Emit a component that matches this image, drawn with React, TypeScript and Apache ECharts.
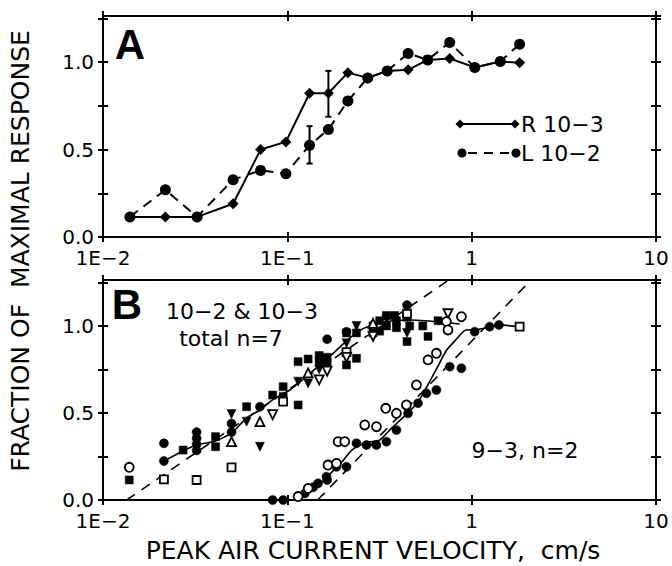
import React, { useEffect, useRef } from 'react';
import * as echarts from 'echarts';

// ---------- tick labels ----------
const xTickValues = [0.01, 0.1, 1, 10];
const xTickLabels = ['1E\u22122', '1E\u22121', '1', '10'];
const yTickValues = [0, 0.5, 1];
const yTickLabels = ['0.0', '0.5', '1.0'];

// ---------- panel A ----------
const aVelocity = [0.014, 0.0218, 0.0324, 0.0508, 0.0716, 0.0982, 0.132, 0.167, 0.213, 0.273, 0.348, 0.452, 0.577, 0.76, 1.04, 1.43, 1.82];
const aR103 = [0.115, 0.115, 0.115, 0.19, 0.5, 0.544, 0.822, 0.822, 0.94, 0.91, 0.95, 0.956, 1.013, 1.021, 0.97, 1.004, 0.996];
const aL102 = [0.115, 0.27, 0.115, 0.328, 0.381, 0.362, 0.525, 0.615, 0.778, 0.91, 0.95, 1.05, 1.013, 1.113, 0.97, 1.004, 1.103];
// [velocity, low, high]
const aErrR = [[0.167, 0.688, 0.95]];
const aErrL = [[0.132, 0.42, 0.634]];

// ---------- panel B : 10-2 & 10-3 ----------
const bFilledCircle = [[0.0214, 0.326], [0.0214, 0.224], [0.0322, 0.39], [0.0322, 0.355], [0.0322, 0.32], [0.0322, 0.285], [0.0498, 0.44], [0.0498, 0.39], [0.071, 0.536], [0.1644, 0.924], [0.2094, 0.967], [0.4459, 1.12]];
const bOpenCircle = [[0.01388, 0.188]];
const bFilledSquare = [[0.01388, 0.115], [0.0272, 0.287], [0.0408, 0.364], [0.0408, 0.306], [0.0601, 0.536], [0.0832, 0.603], [0.0949, 0.651], [0.0949, 0.594], [0.1144, 0.546], [0.1144, 0.795], [0.1297, 0.81], [0.1488, 0.8], [0.1488, 0.83], [0.1644, 0.82], [0.1644, 0.79], [0.2094, 0.776], [0.2371, 0.814], [0.2371, 0.96], [0.2094, 0.96], [0.2917, 1.0], [0.2917, 0.96], [0.317, 1.03], [0.317, 0.97], [0.3449, 1.06], [0.3449, 1.0], [0.382, 1.06], [0.3907, 1.03], [0.3907, 0.99], [0.4459, 1.05], [0.461, 1.0], [0.4459, 0.91], [0.543, 1.0], [0.5796, 0.94], [0.6568, 1.03]];
const bOpenSquare = [[0.0214, 0.119], [0.0322, 0.115], [0.0498, 0.188], [0.0949, 0.565], [0.2094, 0.85], [0.4459, 1.07]];
const bFilledDownTri = [[0.0498, 0.494], [0.0601, 0.45], [0.071, 0.306], [0.1144, 0.68], [0.1297, 0.67], [0.1488, 0.75], [0.2094, 0.9], [0.2371, 1.0], [0.3449, 1.04], [0.4459, 0.96]];
const bOpenDownTri = [[0.0832, 0.49], [0.1488, 0.69], [0.1644, 0.74], [0.2094, 0.82], [0.2917, 0.94], [0.7438, 1.07]];
const bOpenUpTri = [[0.0498, 0.335], [0.071, 0.45], [0.1297, 0.73], [0.2917, 1.015]];

// ---------- panel B : 9-3 ----------
const b93Filled = [[0.0832, 0.0], [0.0949, 0.0], [0.1244, 0.038], [0.138, 0.073], [0.1468, 0.096], [0.1644, 0.115], [0.1631, 0.134], [0.1848, 0.191], [0.2094, 0.191], [0.2371, 0.326], [0.2687, 0.316], [0.3044, 0.316], [0.3449, 0.335], [0.3907, 0.402], [0.4516, 0.498], [0.5116, 0.556], [0.5682, 0.613], [0.6438, 0.632], [0.7601, 0.766], [0.8796, 0.757], [1.038, 0.967], [1.252, 0.996], [1.406, 1.006]];
const b93Open = [[0.1144, 0.02], [0.1297, 0.067], [0.1662, 0.201], [0.1848, 0.21], [0.1885, 0.335], [0.2049, 0.335], [0.263, 0.431], [0.3044, 0.421], [0.3419, 0.527], [0.3907, 0.498], [0.4427, 0.546], [0.5017, 0.661], [0.5796, 0.805], [0.6438, 0.843], [0.7294, 1.025], [0.7438, 0.977], [0.8796, 1.053]];
const b93OpenSquare = [[1.82, 0.996]];

// ---------- panel B : curves ----------
const bCurveLeft = [[0.0214, 0.224], [0.0272, 0.282], [0.0322, 0.316], [0.0408, 0.339], [0.0498, 0.385], [0.0601, 0.471], [0.071, 0.517], [0.0832, 0.575], [0.1032, 0.632], [0.1244, 0.701], [0.1501, 0.776], [0.1809, 0.851], [0.2183, 0.931], [0.263, 0.989], [0.3377, 1.023], [0.4613, 1.034], [0.671, 1.023], [0.861, 1.011]];
const bCurveRight = [[0.1169, 0.006], [0.1463, 0.08], [0.17, 0.149], [0.1974, 0.218], [0.2237, 0.287], [0.263, 0.328], [0.3172, 0.345], [0.3685, 0.414], [0.4334, 0.483], [0.5098, 0.56], [0.5775, 0.66], [0.65, 0.76], [0.73, 0.86], [0.82, 0.92], [0.93, 0.977], [1.038, 0.977], [1.252, 0.994], [1.418, 1.006], [1.82, 0.994]];
const bDashLeft = [[0.01344, 0], [0.752, 1.264]];
const bDashRight = [[0.146, 0], [2.1, 1.264]];

const Y_MAX = 1.264;
const FONT = 'DejaVu Sans';

function xLabel(v: number) {
  for (let i = 0; i < xTickValues.length; i++) {
    if (Math.abs(Math.log10(v) - Math.log10(xTickValues[i])) < 1e-6) return xTickLabels[i];
  }
  return '';
}
function yLabel(v: number) {
  for (let i = 0; i < yTickValues.length; i++) {
    if (Math.abs(v - yTickValues[i]) < 1e-6) return yTickLabels[i];
  }
  return '';
}

function makeX(gridIndex: number, position: string, inside: boolean, showLabel: boolean) {
  return {
    type: 'log', logBase: 10, min: 0.01, max: 10, gridIndex, position,
    axisLine: { show: true, onZero: false, lineStyle: { color: '#000', width: 2 } },
    axisTick: { show: true, inside, length: 5, lineStyle: { color: '#000', width: 2 } },
    axisLabel: { show: showLabel, formatter: xLabel, fontSize: 20, fontFamily: FONT, color: '#000', margin: 11 },
    splitLine: { show: false }, minorTick: { show: false }, minorSplitLine: { show: false },
  };
}
function makeY(gridIndex: number, position: string, inside: boolean, showLabel: boolean) {
  return {
    type: 'value', min: 0, max: Y_MAX, interval: 0.25, gridIndex, position,
    axisLine: { show: true, onZero: false, lineStyle: { color: '#000', width: 2 } },
    axisTick: { show: true, inside, length: 5, lineStyle: { color: '#000', width: 2 } },
    axisLabel: { show: showLabel, formatter: yLabel, fontSize: 20, fontFamily: FONT, color: '#000', margin: 9, showMaxLabel: false },
    splitLine: { show: false },
  };
}

const errRender = (params: any, api: any) => {
  const x = api.value(0), lo = api.value(1), hi = api.value(2);
  const p1 = api.coord([x, lo]);
  const p2 = api.coord([x, hi]);
  const cw = 3;
  const st = { stroke: '#000', lineWidth: 2 };
  return {
    type: 'group',
    children: [
      { type: 'line', shape: { x1: p1[0], y1: p1[1], x2: p2[0], y2: p2[1] }, style: st },
      { type: 'line', shape: { x1: p1[0] - cw, y1: p1[1], x2: p1[0] + cw, y2: p1[1] }, style: st },
      { type: 'line', shape: { x1: p2[0] - cw, y1: p2[1], x2: p2[0] + cw, y2: p2[1] }, style: st },
    ],
  };
};

function scatter(name: string, data: number[][], symbol: string, size: number, open: boolean, rotate = 0) {
  return {
    name, type: 'scatter', xAxisIndex: 4, yAxisIndex: 4, data, symbol, symbolSize: size, symbolRotate: rotate, z: 4,
    itemStyle: open
      ? { color: '#fff', borderColor: '#000', borderWidth: 1.8, opacity: 1 }
      : { color: '#000', borderColor: '#000', borderWidth: 0.5, opacity: 1 },
  };
}

function diamondPts(cx: number, cy: number, r: number) {
  return [[cx, cy - r], [cx + r, cy], [cx, cy + r], [cx - r, cy]];
}

export default function App() {
  const ref = useRef<HTMLDivElement>(null);
  useEffect(() => {
    if (!ref.current) return;
    const chart = echarts.init(ref.current, undefined, { renderer: 'svg' });
    const option: any = {
      animation: false,
      backgroundColor: '#fff',
      textStyle: { fontFamily: FONT },
      grid: [
        { left: 103, top: 16, width: 553, height: 221 },
        { left: 103, top: 280, width: 553, height: 220 },
      ],
      xAxis: [
        makeX(0, 'bottom', false, true), makeX(0, 'bottom', true, false), makeX(0, 'top', false, false), makeX(0, 'top', true, false),
        makeX(1, 'bottom', false, true), makeX(1, 'bottom', true, false), makeX(1, 'top', false, false), makeX(1, 'top', true, false),
      ],
      yAxis: [
        makeY(0, 'left', false, true), makeY(0, 'left', true, false), makeY(0, 'right', false, false), makeY(0, 'right', true, false),
        makeY(1, 'left', false, true), makeY(1, 'left', true, false), makeY(1, 'right', false, false), makeY(1, 'right', true, false),
      ],
      series: [
        {
          name: 'L 10-2', type: 'line', xAxisIndex: 0, yAxisIndex: 0,
          data: aVelocity.map((v, i) => [v, aL102[i]]),
          symbol: 'circle', symbolSize: 11, showSymbol: true, z: 3,
          lineStyle: { color: '#000', width: 2, type: [10, 7] },
          itemStyle: { color: '#000', opacity: 1 },
        },
        {
          name: 'R 10-3', type: 'line', xAxisIndex: 0, yAxisIndex: 0,
          data: aVelocity.map((v, i) => [v, aR103[i]]),
          symbol: 'diamond', symbolSize: 11, showSymbol: true, z: 4,
          lineStyle: { color: '#000', width: 2 },
          itemStyle: { color: '#000', opacity: 1 },
        },
        { type: 'custom', xAxisIndex: 0, yAxisIndex: 0, renderItem: errRender, data: aErrR, encode: { x: 0, y: [1, 2] }, z: 5 },
        { type: 'custom', xAxisIndex: 0, yAxisIndex: 0, renderItem: errRender, data: aErrL, encode: { x: 0, y: [1, 2] }, z: 5 },

        { type: 'line', xAxisIndex: 4, yAxisIndex: 4, data: bDashLeft, symbol: 'none', z: 2, lineStyle: { color: '#000', width: 1.6, type: [10, 8] } },
        { type: 'line', xAxisIndex: 4, yAxisIndex: 4, data: bDashRight, symbol: 'none', z: 2, lineStyle: { color: '#000', width: 1.6, type: [10, 8] } },
        { type: 'line', xAxisIndex: 4, yAxisIndex: 4, data: bCurveLeft, symbol: 'none', z: 2, smooth: 0.2, lineStyle: { color: '#000', width: 1.6 } },
        { type: 'line', xAxisIndex: 4, yAxisIndex: 4, data: bCurveRight, symbol: 'none', z: 2, smooth: 0.2, lineStyle: { color: '#000', width: 1.6 } },

        scatter('filled square', bFilledSquare, 'rect', 8, false),
        scatter('open square', bOpenSquare, 'rect', 8, true),
        scatter('filled down', bFilledDownTri, 'triangle', 9, false, 180),
        scatter('open down', bOpenDownTri, 'triangle', 9, true, 180),
        scatter('open up', bOpenUpTri, 'triangle', 9, true),
        scatter('filled circle', bFilledCircle, 'circle', 9, false),
        scatter('open circle', bOpenCircle, 'circle', 9, true),
        scatter('9-3 filled', b93Filled, 'circle', 9, false),
        scatter('9-3 open', b93Open, 'circle', 9, true),
        scatter('9-3 square', b93OpenSquare, 'rect', 8, true),
      ],
      graphic: [
        { type: 'text', x: 130, y: 44, style: { text: 'A', font: 'bold 42px "Liberation Sans"', fill: '#000', align: 'center', verticalAlign: 'middle', textAlign: 'center', textVerticalAlign: 'middle' } },
        { type: 'text', x: 127, y: 304, style: { text: 'B', font: 'bold 42px "Liberation Sans"', fill: '#000', align: 'center', verticalAlign: 'middle', textAlign: 'center', textVerticalAlign: 'middle' } },
        { type: 'text', x: 242, y: 311, style: { text: '10\u22122 & 10\u22123', font: `22px "${FONT}"`, fill: '#000', align: 'center', verticalAlign: 'middle', textAlign: 'center', textVerticalAlign: 'middle' } },
        { type: 'text', x: 231, y: 338, style: { text: 'total n=7', font: `22px "${FONT}"`, fill: '#000', align: 'center', verticalAlign: 'middle', textAlign: 'center', textVerticalAlign: 'middle' } },
        { type: 'text', x: 525, y: 450, style: { text: '9\u22123, n=2', font: `22px "${FONT}"`, fill: '#000', align: 'center', verticalAlign: 'middle', textAlign: 'center', textVerticalAlign: 'middle' } },
        // legend
        { type: 'line', shape: { x1: 460, y1: 124, x2: 515, y2: 124 }, style: { stroke: '#000', lineWidth: 2 } },
        { type: 'polygon', shape: { points: diamondPts(460, 124, 4.5) }, style: { fill: '#000' } },
        { type: 'polygon', shape: { points: diamondPts(515, 124, 4.5) }, style: { fill: '#000' } },
        { type: 'text', x: 521, y: 124, style: { text: 'R 10\u22123', font: `22px "${FONT}"`, fill: '#000', align: 'left', verticalAlign: 'middle', textAlign: 'left', textVerticalAlign: 'middle' } },
        { type: 'line', shape: { x1: 462, y1: 153, x2: 516, y2: 153 }, style: { stroke: '#000', lineWidth: 2, lineDash: [9, 7], lineDashOffset: -6 } },
        { type: 'circle', shape: { cx: 462, cy: 153, r: 4.5 }, style: { fill: '#000' } },
        { type: 'circle', shape: { cx: 516, cy: 153, r: 4.5 }, style: { fill: '#000' } },
        { type: 'text', x: 521, y: 153, style: { text: 'L 10\u22122', font: `22px "${FONT}"`, fill: '#000', align: 'left', verticalAlign: 'middle', textAlign: 'left', textVerticalAlign: 'middle' } },
        // axis titles
        { type: 'text', x: 20, y: 251, rotation: Math.PI / 2, style: { text: 'FRACTION OF  MAXIMAL RESPONSE', font: `25px "${FONT}"`, fill: '#000', align: 'center', verticalAlign: 'middle', textAlign: 'center', textVerticalAlign: 'middle' } },
        { type: 'text', x: 373, y: 550, style: { text: 'PEAK AIR CURRENT VELOCITY,  cm/s', font: `25px "${FONT}"`, fill: '#000', align: 'center', verticalAlign: 'middle', textAlign: 'center', textVerticalAlign: 'middle' } },
      ],
    };
    chart.setOption(option);
    return () => chart.dispose();
  }, []);
  return <div ref={ref} style={{ position: 'fixed', left: 0, top: 0, width: 672, height: 566, background: '#fff' }} />;
}
